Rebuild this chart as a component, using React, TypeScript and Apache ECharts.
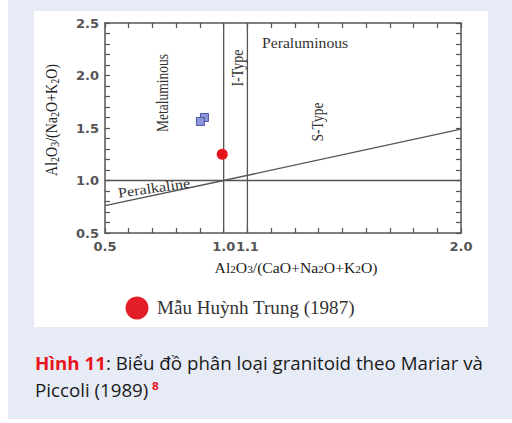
import React, { useEffect, useRef } from "react";
import * as echarts from "echarts";

// ---- data ----
const X_RANGE = [0.5, 2.0];
const Y_RANGE = [0.5, 2.5];
const TICK_STEP = 0.1;
const X_LABELS = [0.5, 1.0, 1.1, 2.0];
const Y_LABELS = [0.5, 1.0, 1.5, 2.0, 2.5];
const BOUNDARY_X = [1.0, 1.1];
const BOUNDARY_Y = [1.0];
const PERALKALINE_X = [0.5, 1.0, 2.0];
const PERALKALINE_Y = [0.76, 1.0, 1.49];
const SQUARE_X = [0.919, 0.902];
const SQUARE_Y = [1.6, 1.562];
const SAMPLE_X = [0.994];
const SAMPLE_Y = [1.25];
const LEGEND_NAME = "Mẫu Huỳnh Trung (1987)";

const SERIF = "Liberation Serif";
const SANS = "Open Sans";
const LINE = "#555";

const fmt = (list: number[]) => (v: number) => {
  const r = Math.round(v * 10) / 10;
  return list.some((l) => Math.abs(l - r) < 1e-6) ? r.toFixed(1) : "";
};

export default function App() {
  const ref = useRef<HTMLDivElement>(null);
  useEffect(() => {
    const chart = echarts.init(ref.current!, undefined, { renderer: "svg" });
    const tickStyle = { show: true, inside: true, length: 5, lineStyle: { color: LINE, width: 1.2 } };
    const axisLine = { show: true, onZero: false, lineStyle: { color: LINE, width: 1.5 } };
    const labelStyle = { color: "#555", fontFamily: "DejaVu Sans", fontWeight: "bold" as const, fontSize: 13 };
    const lineSeries = (data: number[][]) => ({
      type: "line",
      data,
      symbol: "none",
      silent: true,
      lineStyle: { color: LINE, width: 1.3 },
      z: 3,
    });
    const sub = { fontSize: 10, fontFamily: SERIF, fill: "#222", verticalAlign: "bottom" };
    const nrm = { fontSize: 14, fontFamily: SERIF, fill: "#222" };
    const serifText = (text: string, size: number) => ({
      text, fontSize: size, fontFamily: SERIF, fill: "#333", align: "center", verticalAlign: "middle",
    });
    chart.setOption({
      animation: false,
      backgroundColor: "#e7ebf6",
      grid: { left: 97, top: 23, right: 51, bottom: 186 },
      xAxis: [
        {
          type: "value", position: "bottom", min: X_RANGE[0], max: X_RANGE[1], interval: TICK_STEP,
          axisLine, axisTick: tickStyle, splitLine: { show: false },
          axisLabel: { ...labelStyle, margin: 7, formatter: fmt(X_LABELS), showMinLabel: true, showMaxLabel: true },
        },
        {
          type: "value", position: "top", min: X_RANGE[0], max: X_RANGE[1], interval: TICK_STEP,
          axisLine, axisTick: tickStyle, splitLine: { show: false }, axisLabel: { show: false },
        },
      ],
      yAxis: [
        {
          type: "value", position: "left", min: Y_RANGE[0], max: Y_RANGE[1], interval: TICK_STEP,
          axisLine, axisTick: tickStyle, splitLine: { show: false },
          axisLabel: { ...labelStyle, margin: 6, formatter: fmt(Y_LABELS), showMinLabel: true, showMaxLabel: true },
        },
        {
          type: "value", position: "right", min: Y_RANGE[0], max: Y_RANGE[1], interval: TICK_STEP,
          axisLine, axisTick: tickStyle, splitLine: { show: false }, axisLabel: { show: false },
        },
      ],
      series: [
        ...BOUNDARY_X.map((x) => lineSeries([[x, Y_RANGE[0]], [x, Y_RANGE[1]]])),
        ...BOUNDARY_Y.map((y) => lineSeries([[X_RANGE[0], y], [X_RANGE[1], y]])),
        lineSeries(PERALKALINE_X.map((x, i) => [x, PERALKALINE_Y[i]])),
        {
          type: "scatter",
          data: SQUARE_X.map((x, i) => [x, SQUARE_Y[i]]),
          symbol: "rect",
          symbolSize: 8,
          itemStyle: { color: "#8e98d8", borderColor: "#4d57a6", borderWidth: 1, opacity: 1 },
          z: 4,
        },
        {
          type: "scatter",
          name: LEGEND_NAME,
          data: SAMPLE_X.map((x, i) => [x, SAMPLE_Y[i]]),
          symbol: "circle",
          symbolSize: 11,
          itemStyle: { color: "#e8141c", opacity: 1 },
          z: 5,
        },
      ],
      graphic: [
        { type: "rect", z: -10, silent: true, shape: { x: 26, y: 11, width: 454, height: 316 }, style: { fill: "#ffffff" } },
        {
          type: "text", x: 254, y: 43, scaleX: 1.12, z: 10,
          style: { ...serifText("Peraluminous", 14), align: "left" },
        },
        { type: "text", x: 155, y: 93, rotation: Math.PI / 2, scaleY: 1.2, z: 10, style: serifText("Metaluminous", 13.5) },
        { type: "text", x: 229, y: 68, rotation: Math.PI / 2, scaleY: 1.2, z: 10, style: serifText("I-Type", 14) },
        { type: "text", x: 310, y: 122, rotation: Math.PI / 2, scaleY: 1.2, z: 10, style: serifText("S-Type", 13.5) },
        { type: "text", x: 146, y: 188, rotation: 0.14, scaleX: 1.15, z: 10, style: serifText("Peralkaline", 14) },
        {
          type: "text", x: 44, y: 120, rotation: Math.PI / 2, scaleY: 1.15, z: 10,
          style: {
            text: "{n|Al}{s|2}{n|O}{s|3}{n|/(Na}{s|2}{n|O+K}{s|2}{n|O)}",
            rich: { n: nrm, s: sub },
            align: "center", verticalAlign: "middle",
          },
        },
        {
          type: "text", x: 288, y: 268, scaleX: 1.12, z: 10,
          style: {
            text: "{n|Al}{s|2}{n|O}{s|3}{n|/(CaO+Na}{s|2}{n|O+K}{s|2}{n|O)}",
            rich: { n: nrm, s: sub },
            align: "center", verticalAlign: "middle",
          },
        },
        { type: "circle", z: 10, shape: { cx: 129, cy: 308, r: 11.5 }, style: { fill: "#e41e26" } },
        {
          type: "text", x: 149, y: 308, scaleX: 1.06, z: 10,
          style: { ...serifText(LEGEND_NAME, 18), align: "left" },
        },
        {
          type: "text", x: 27, y: 350, scaleX: 1.07, z: 10,
          style: {
            text: "{r|Hình 11}{t|: Biểu đồ phân loại granitoid theo Mariar và}\n{t|Piccoli (1989)} {u|8}",
            rich: {
              r: { fontSize: 17.5, fontFamily: SANS, fontWeight: "bold", fill: "#e8141c", lineHeight: 27 },
              t: { fontSize: 17.5, fontFamily: SANS, fill: "#1a1a1a", lineHeight: 27 },
              u: { fontSize: 11, fontFamily: SANS, fontWeight: "bold", fill: "#e8141c", verticalAlign: "top", padding: [3, 0, 0, 0] },
            },
            align: "left", verticalAlign: "top",
          },
        },
      ],
    });
    return () => chart.dispose();
  }, []);
  return <div ref={ref} style={{ position: "absolute", left: 8, top: 0, width: 504, height: 419 }} />;
}
